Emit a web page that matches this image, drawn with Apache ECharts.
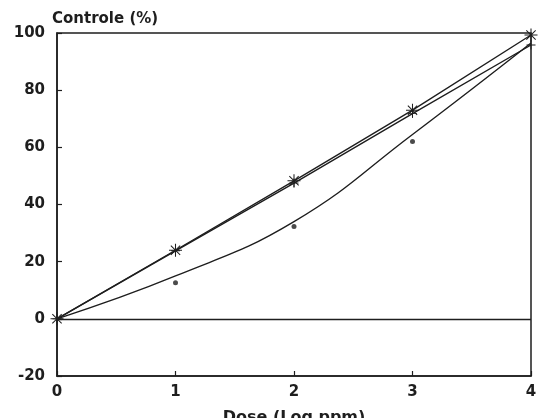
<!DOCTYPE html>
<html>
<head>
<meta charset="utf-8">
<script src="https://cdn.jsdelivr.net/npm/echarts@6/dist/echarts.min.js"></script>
<style>html,body{margin:0;padding:0;background:#fff;}#c{width:539px;height:418px;}</style>
</head>
<body>
<div id="c"></div>
<script>
const doses = [0, 1, 2, 3, 4];
const starValues = [0, 24, 48.3, 73, 99.3];
const plusValues = [0, 23.8, 47.5, 71.8, 95.8];
const dotValues = [0, 12.6, 32.3, 62, 97];
const dotFit = [0, 15, 34, 64.5, 96.5];
const xTicks = [0, 1, 2, 3, 4];
const yTicks = [-20, 0, 20, 40, 60, 80, 100];

const ink = '#1e1e1e';
const font = 'DejaVu Sans';
const asterisk = 'path://M9.2 0L10.8 0L10.8 20L9.2 20ZM0 9.2L20 9.2L20 10.8L0 10.8ZM2.3 3.4L3.4 2.3L17.7 16.6L16.6 17.7ZM16.6 2.3L17.7 3.4L3.4 17.7L2.3 16.6Z';
const plus = 'path://M9 0L11 0L11 20L9 20ZM0 9L20 9L20 11L0 11Z';

const pairs = (ys) => doses.map((x, i) => [x, ys[i]]);

const chart = echarts.init(document.getElementById('c'));
chart.setOption({
  animation: false,
  backgroundColor: '#fff',
  grid: { left: 57, right: 8, top: 33, bottom: 42, containLabel: false, outerBoundsMode: 'none',
    show: true, borderColor: ink, borderWidth: 1.5, backgroundColor: 'transparent' },
  graphic: [{ type: 'text', left: 52, top: 12, style: { text: 'Controle (%)', font: 'bold 15px "' + font + '"', fill: ink } }],
  xAxis: {
    type: 'value', min: 0, max: 4, interval: 1,
    name: 'Dose (Log ppm)', nameLocation: 'middle', nameGap: 34,
    nameTextStyle: { fontFamily: font, fontWeight: 'bold', fontSize: 16, color: ink },
    axisLine: { show: true, onZero: false, lineStyle: { color: ink, width: 1.5 } },
    axisTick: { show: true, inside: true, length: 5, lineStyle: { color: ink, width: 1.2 } },
    axisLabel: { margin: 9, fontFamily: font, fontWeight: 'bold', fontSize: 15, color: ink,
      formatter: (v) => xTicks.includes(v) ? String(v) : '' },
    splitLine: { show: false }
  },
  yAxis: {
    type: 'value', min: -20, max: 100, interval: 20,
    axisLine: { show: true, onZero: false, lineStyle: { color: ink, width: 1.5 } },
    axisTick: { show: true, inside: true, length: 5, lineStyle: { color: ink, width: 1.2 } },
    axisLabel: { margin: 12, fontFamily: font, fontWeight: 'bold', fontSize: 15, color: ink,
      formatter: (v) => yTicks.includes(v) ? String(v) : '' },
    splitLine: { show: false }
  },
  series: [
    { type: 'line', data: pairs(plusValues), symbol: plus, symbolSize: 9,
      lineStyle: { color: ink, width: 1.4 }, itemStyle: { color: ink }, z: 3 },
    { type: 'line', data: pairs(starValues), symbol: asterisk, symbolSize: 13,
      lineStyle: { color: ink, width: 1.4 }, itemStyle: { color: ink }, z: 4,
      markLine: { silent: true, symbol: 'none', label: { show: false },
        lineStyle: { color: ink, width: 1.3, type: 'solid' }, data: [{ yAxis: 0 }] } },
    { type: 'line', data: pairs(dotFit), smooth: 0.45, showSymbol: false,
      lineStyle: { color: ink, width: 1.4 }, z: 2 },
    { type: 'scatter', data: pairs(dotValues).slice(1, 4), symbol: 'circle', symbolSize: 5,
      itemStyle: { color: ink }, z: 5 }
  ]
});
</script>
</body>
</html>
